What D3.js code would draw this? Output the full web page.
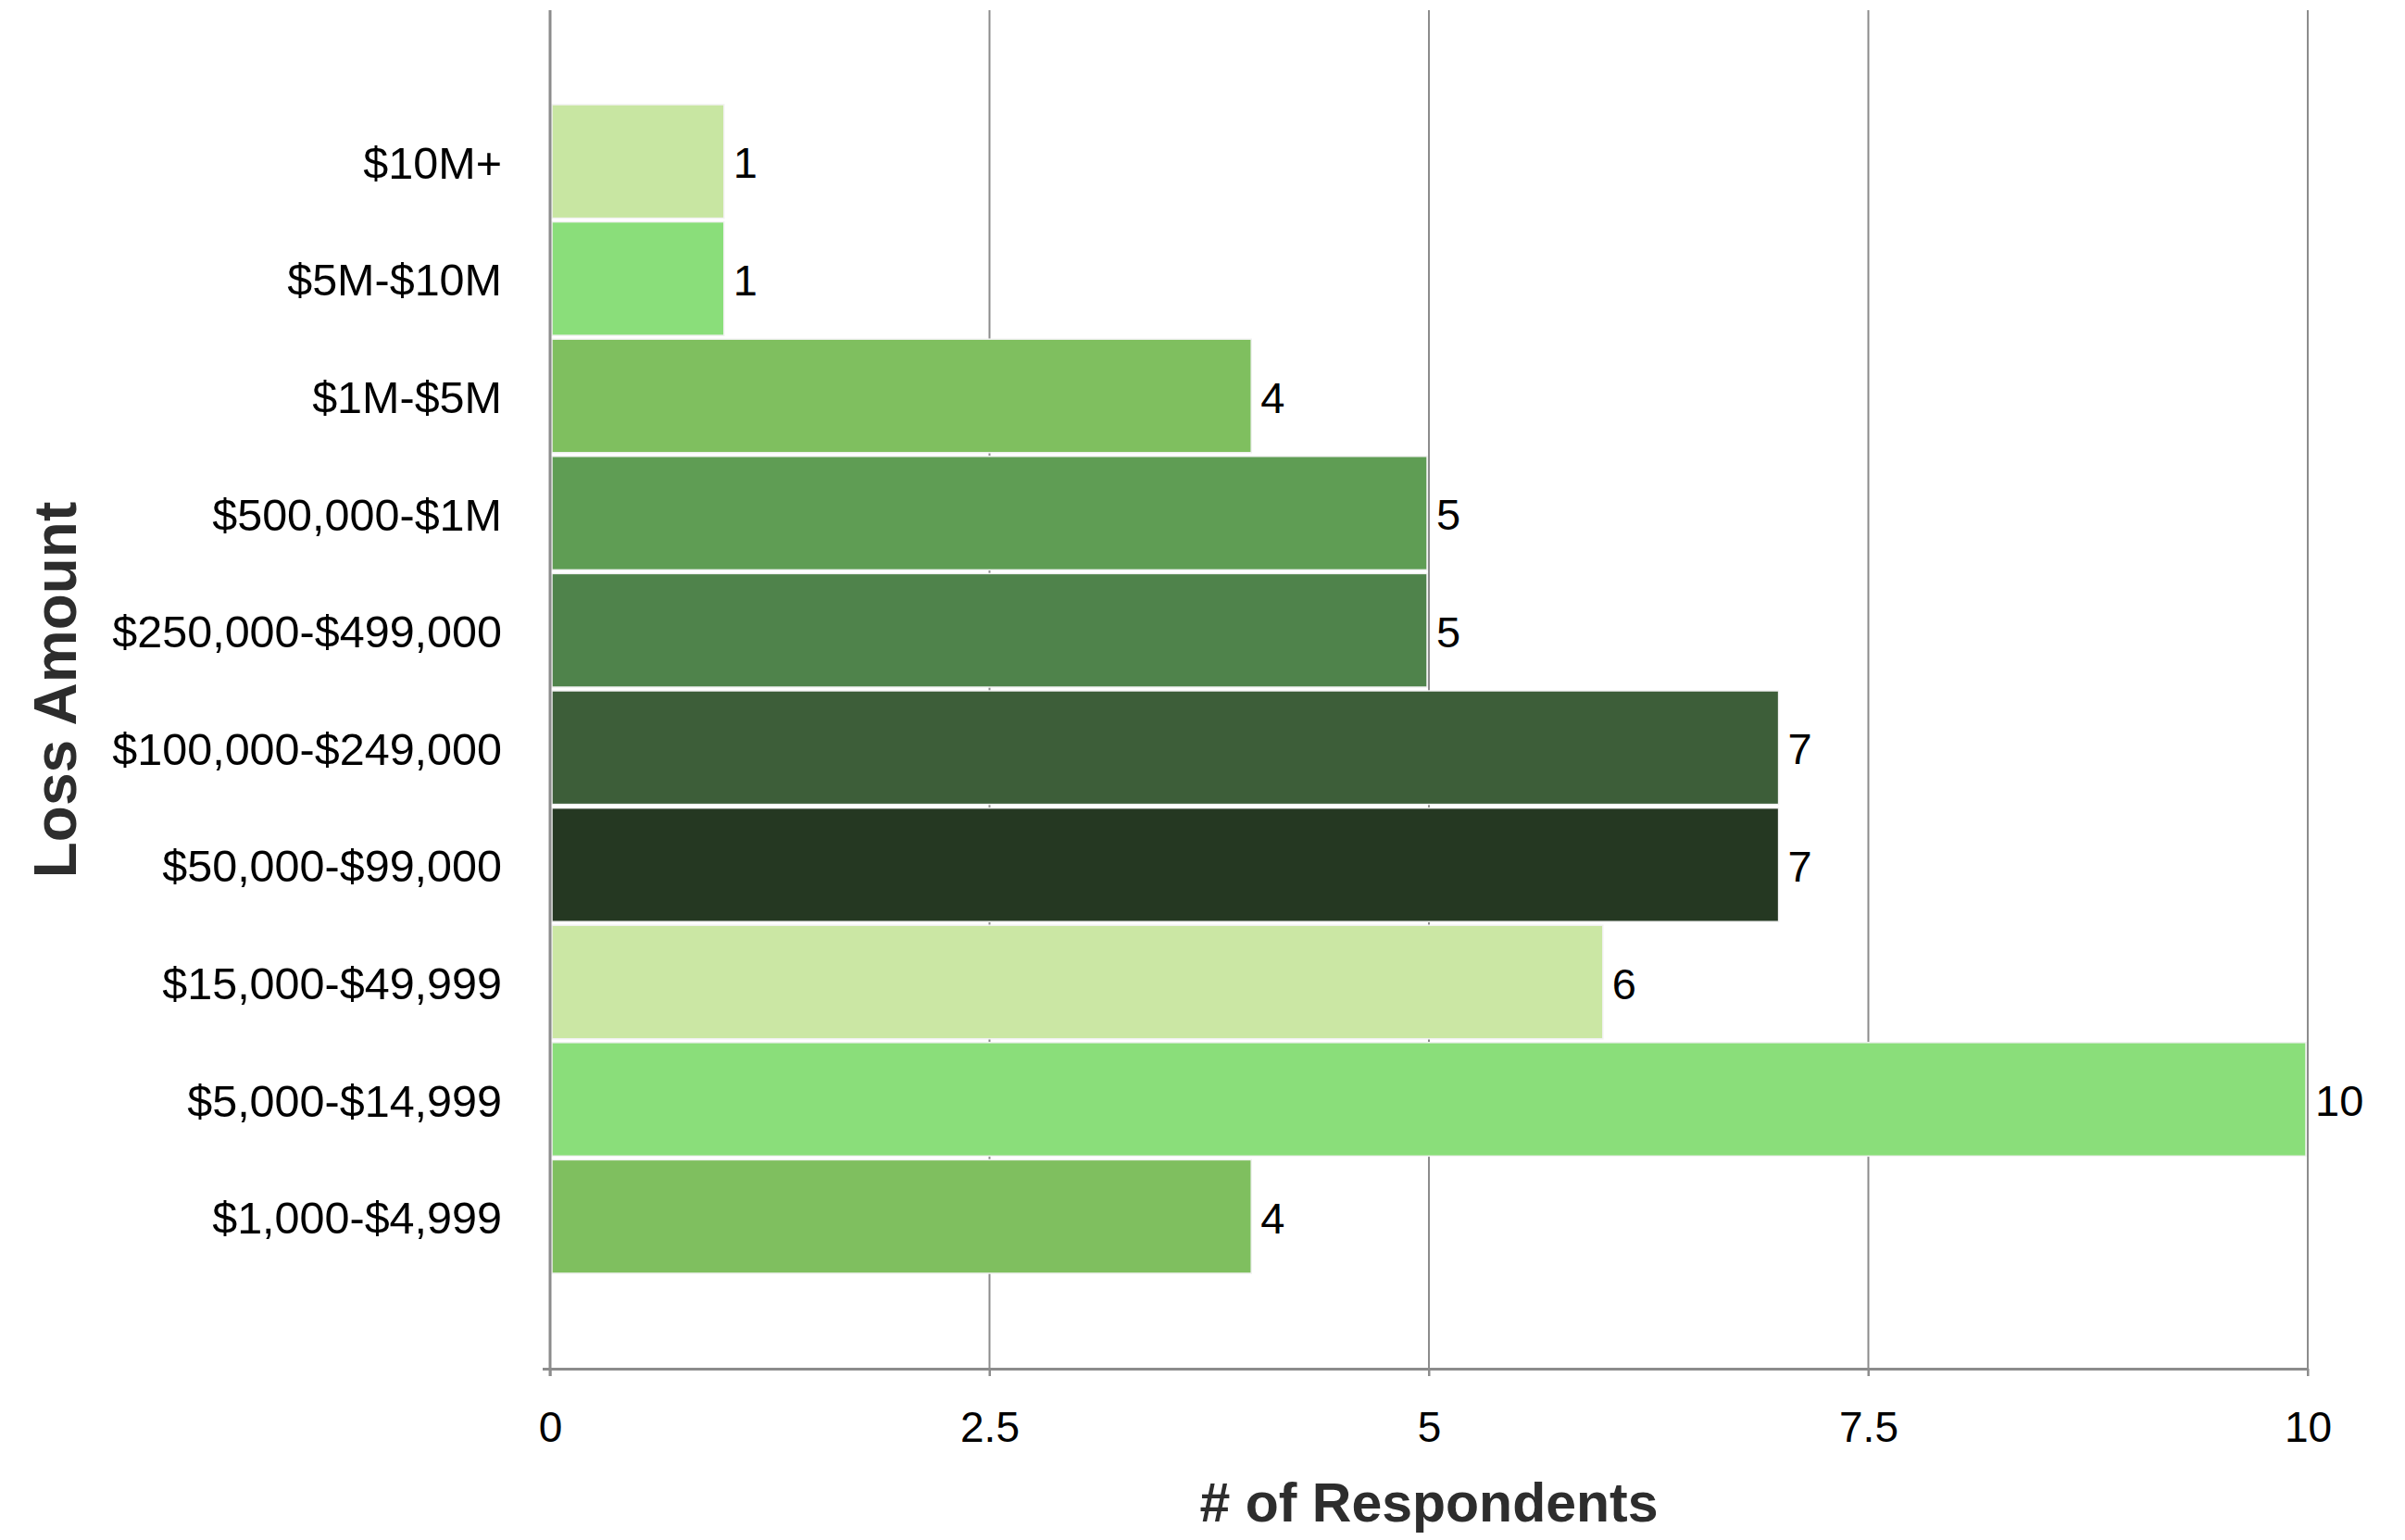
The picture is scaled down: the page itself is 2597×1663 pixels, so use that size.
<!DOCTYPE html>
<html>
<head>
<meta charset="utf-8">
<script src="https://cdn.jsdelivr.net/npm/d3@7"></script>
<style>
  html, body { margin: 0; padding: 0; background: #ffffff; }
  svg { display: block; }
  text { font-family: "Liberation Sans", Arial, Helvetica, sans-serif; }
</style>
</head>
<body>
<svg id="chart" width="2597" height="1663"></svg>
<script>
// Loss amount brackets, top to bottom
const categories = [
  "$10M+",
  "$5M-$10M",
  "$1M-$5M",
  "$500,000-$1M",
  "$250,000-$499,000",
  "$100,000-$249,000",
  "$50,000-$99,000",
  "$15,000-$49,999",
  "$5,000-$14,999",
  "$1,000-$4,999"
];

// Number of respondents per bracket
const respondents = [1, 1, 4, 5, 5, 7, 7, 6, 10, 4];

// Fill per bracket
const barColors = [
  "#c8e6a2", "#8ade7a", "#7fbf5f", "#5f9d54", "#4f834b",
  "#3d5e39", "#253822", "#cbe7a4", "#8ade7a", "#7fbf5f"
];

// X axis ticks
const xTicks = [0, 2.5, 5, 7.5, 10];
const xTickLabels = ["0", "2.5", "5", "7.5", "10"];

const xTitle = "# of Respondents";
const yTitle = "Loss Amount";

const svg = d3.select("#chart");

const plot = { left: 594, right: 2492, top: 11, bottom: 1478 };

const x = d3.scaleLinear().domain([0, 10]).range([plot.left, plot.right]);
const y = d3.scaleBand().domain(categories).range([111, 1377]).paddingInner(0).paddingOuter(0);

const gridColor = "#8c8c8c";

// Vertical gridlines
svg.append("g")
  .selectAll("line")
  .data(xTicks.filter(t => t > 0))
  .join("line")
  .attr("x1", d => x(d)).attr("x2", d => x(d))
  .attr("y1", plot.top).attr("y2", plot.bottom + 8)
  .attr("stroke", gridColor)
  .attr("stroke-width", 2);

// Bars
svg.append("g")
  .selectAll("rect")
  .data(respondents)
  .join("rect")
  .attr("x", x(0) + 2)
  .attr("y", (d, i) => y(categories[i]) + 2)
  .attr("width", d => Math.max(0, x(d) - x(0) - 4))
  .attr("height", y.bandwidth() - 4)
  .attr("fill", (d, i) => barColors[i])
  .attr("stroke", "#f2f2f2")
  .attr("stroke-width", 1.5);

// Value labels
svg.append("g")
  .selectAll("text")
  .data(respondents)
  .join("text")
  .attr("x", d => x(d) + 8)
  .attr("y", (d, i) => y(categories[i]) + y.bandwidth() / 2 + 18)
  .attr("font-size", 47)
  .attr("fill", "#000")
  .text(d => d);

// Y axis line
svg.append("line")
  .attr("x1", x(0)).attr("x2", x(0))
  .attr("y1", plot.top).attr("y2", plot.bottom + 8)
  .attr("stroke", gridColor)
  .attr("stroke-width", 3);

// X axis
const xAxis = d3.axisBottom(x)
  .tickValues(xTicks)
  .tickFormat((d, i) => xTickLabels[i])
  .tickSize(8)
  .tickPadding(38);

const gx = svg.append("g")
  .attr("transform", `translate(0,${plot.bottom})`)
  .call(xAxis);
gx.select(".domain")
  .attr("d", `M${plot.left - 8},0.5H${plot.right}`)
  .attr("stroke", gridColor)
  .attr("stroke-width", 3);
gx.selectAll(".tick line").attr("stroke", gridColor).attr("stroke-width", 2);
gx.selectAll(".tick text")
  .attr("font-size", 46)
  .attr("font-family", "Liberation Sans, Arial, sans-serif")
  .attr("fill", "#000");

// Y axis category labels
const yAxis = d3.axisLeft(y).tickSize(0).tickPadding(52);
const gy = svg.append("g")
  .attr("transform", `translate(${x(0)},0)`)
  .call(yAxis);
gy.select(".domain").remove();
gy.selectAll(".tick text")
  .attr("font-size", 48.5)
  .attr("font-family", "Liberation Sans, Arial, sans-serif")
  .attr("dy", "0.38em")
  .attr("fill", "#000");

// Axis titles
svg.append("text")
  .attr("x", (plot.left + plot.right) / 2)
  .attr("y", 1643)
  .attr("text-anchor", "middle")
  .attr("font-size", 59)
  .attr("font-weight", "bold")
  .attr("fill", "#2d2d2d")
  .text(xTitle);

svg.append("text")
  .attr("transform", `translate(82,745) rotate(-90)`)
  .attr("text-anchor", "middle")
  .attr("font-size", 64)
  .attr("font-weight", "bold")
  .attr("fill", "#2d2d2d")
  .text(yTitle);
</script>
</body>
</html>
